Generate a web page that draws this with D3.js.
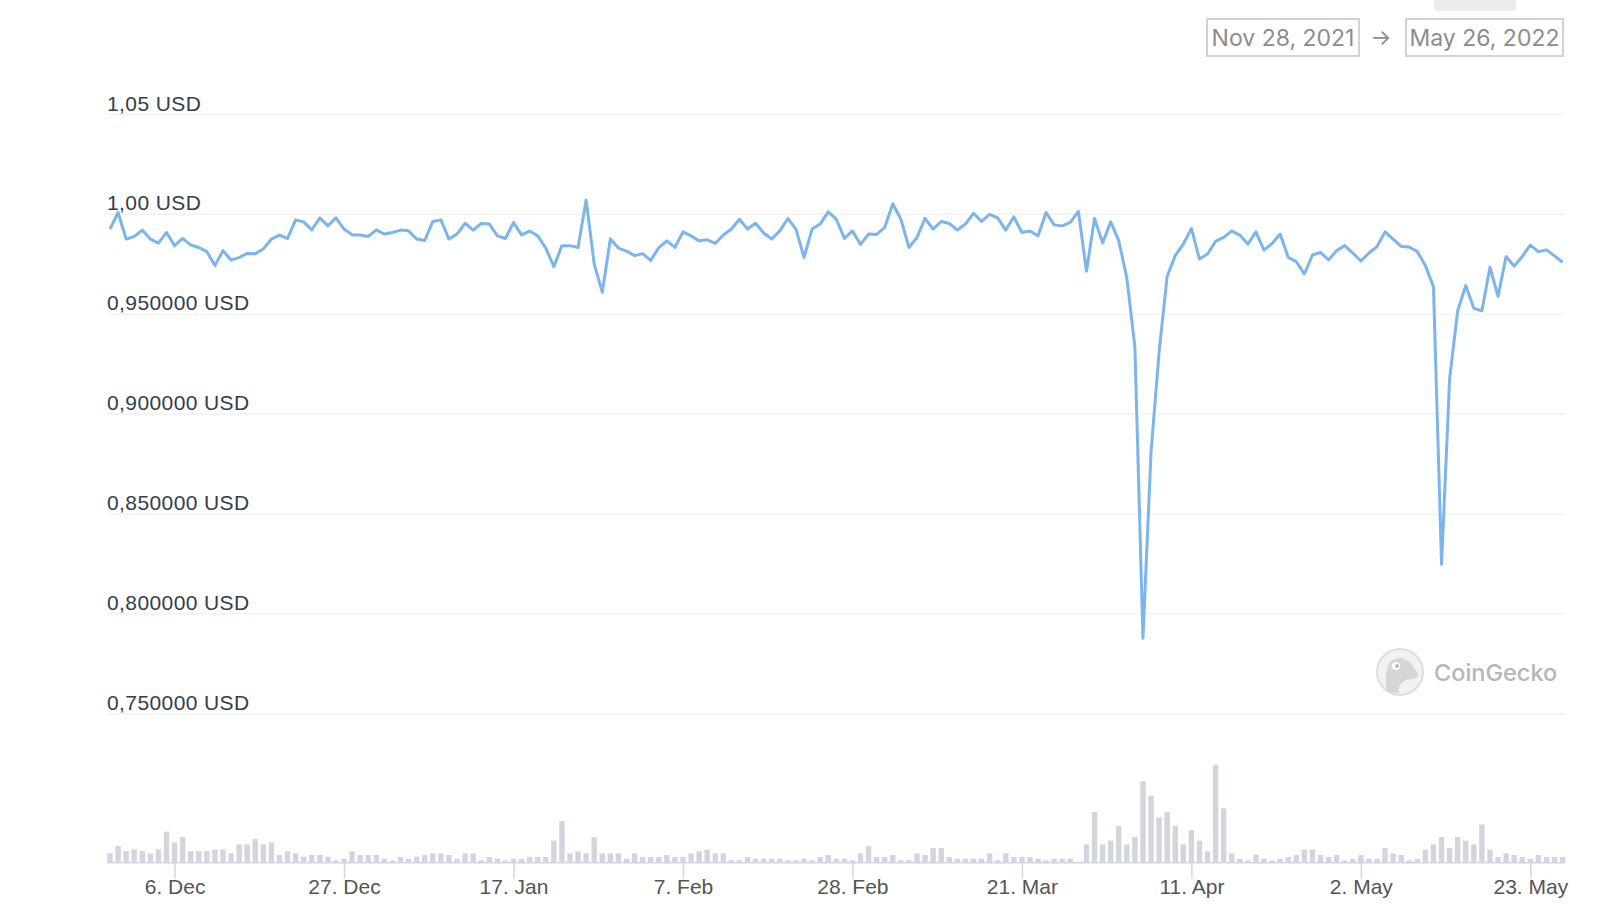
<!DOCTYPE html>
<html>
<head>
<meta charset="utf-8">
<script src="https://cdn.jsdelivr.net/npm/d3@7"></script>
<style>
  body { margin: 0; background: #fff; }
  svg { display: block; font-family: Inter, "Noto Sans", sans-serif; }
</style>
</head>
<body>
<svg width="1604" height="924"></svg>
<script>
// daily price (USD), Nov 28 2021 .. May 27 2022
var startDate = new Date(2021, 10, 28);
var prices = [
  0.9924, 1.0007, 0.9874, 0.9887, 0.9919, 0.9874, 0.9854, 0.9907, 0.9841, 0.9877,
  0.9844, 0.9832, 0.9811, 0.9741, 0.9816, 0.9769, 0.9781, 0.9802, 0.9801, 0.9824,
  0.9874, 0.9894, 0.9877, 0.9970, 0.9960, 0.9920, 0.9980, 0.9940, 0.9980, 0.9924,
  0.9895, 0.9894, 0.9887, 0.9920, 0.9899, 0.9907, 0.9919, 0.9915, 0.9874, 0.9867,
  0.9962, 0.9970, 0.9874, 0.9899, 0.9953, 0.9919, 0.9952, 0.9949, 0.9890, 0.9877,
  0.9957, 0.9895, 0.9914, 0.9890, 0.9829, 0.9736, 0.9841, 0.9841, 0.9832, 1.0070,
  0.9749,
  0.9608, 0.9874, 0.9829, 0.9814, 0.9791, 0.9801, 0.9767, 0.9831, 0.9865, 0.9832,
  0.9910, 0.9890, 0.9865, 0.9870, 0.9852, 0.9894, 0.9924, 0.9973, 0.9924, 0.9953,
  0.9904, 0.9874, 0.9915, 0.9977, 0.9924, 0.9782, 0.9924, 0.9949, 1.0010, 0.9973,
  0.9877, 0.9915, 0.9847, 0.9899, 0.9897, 0.9932, 1.0051, 0.9973, 0.9832, 0.9882,
  0.9978, 0.9924, 0.9962, 0.9952, 0.9919, 0.9949, 1.0003, 0.9962, 0.9998, 0.9980,
  0.9919, 0.9985, 0.9907, 0.9914, 0.9890, 1.0007, 0.9945, 0.9940, 0.9957, 1.0012,
  0.9713, 0.9977, 0.9854, 0.9960, 0.9865, 0.9680, 0.9334, 0.7876, 0.8806, 0.9309,
  0.9688, 0.9791, 0.9849, 0.9927, 0.9774, 0.9799, 0.9862, 0.9882, 0.9915, 0.9894,
  0.9849, 0.9910, 0.9819, 0.9852, 0.9899, 0.9782, 0.9761, 0.9699, 0.9794, 0.9807,
  0.9769, 0.9816, 0.9841, 0.9804, 0.9764, 0.9804, 0.9836, 0.9910, 0.9874, 0.9837,
  0.9834, 0.9811, 0.9741, 0.9635, 0.8245, 0.9175, 0.9515, 0.9641, 0.9527, 0.9515,
  0.9733, 0.9587, 0.9787, 0.9738, 0.9787, 0.9844, 0.9811, 0.9820, 0.9790, 0.9758
];

// daily volume, relative units
var volumes = [
  28, 50, 35, 40, 35, 28, 40, 93, 61, 77, 35, 35, 35, 40, 40, 28, 55, 55, 71, 55,
  61, 23, 34, 28, 18, 23, 23, 18, 7, 12, 34, 23, 23, 23, 12, 7, 17, 12, 18, 23,
  28, 28, 23, 12, 28, 28, 7, 17, 12, 7, 12, 12, 17, 17, 17, 66, 125, 28, 34, 28,
  76,
  28, 28, 28, 12, 28, 17, 17, 17, 23, 17, 17, 28, 34, 39, 28, 28, 7, 7, 17, 12,
  12, 12, 12, 7, 7, 12, 7, 17, 23, 12, 12, 7, 28, 50, 17, 17, 23, 7, 7, 28,
  23, 44, 44, 17, 12, 12, 12, 12, 28, 7, 28, 17, 17, 17, 12, 7, 12, 12, 12,
  3,
  55, 152, 55, 66, 110, 55, 77, 244, 201, 136, 152, 110, 55, 98, 66, 34, 293, 163, 28, 12,
  7, 23, 12, 7, 12, 17, 23, 39, 39, 23, 17, 23, 7, 12, 23, 12, 12, 44, 28, 23,
  7, 12, 39, 55, 77, 44, 77, 66, 55, 115, 39, 17, 28, 23, 17, 12, 23, 17, 17, 17
];

var yTicks = [0.75, 0.80, 0.85, 0.90, 0.95, 1.00, 1.05];
var yLabels = ["0,750000 USD", "0,800000 USD", "0,850000 USD", "0,900000 USD",
               "0,950000 USD", "1,00 USD", "1,05 USD"];
var xTicks = [new Date(2021, 11, 6), new Date(2021, 11, 27), new Date(2022, 0, 17),
              new Date(2022, 1, 7), new Date(2022, 1, 28), new Date(2022, 2, 21),
              new Date(2022, 3, 11), new Date(2022, 4, 2), new Date(2022, 4, 23)];
var rangeLabels = ["Nov 28, 2021", "May 26, 2022"];

var data = prices.map(function(p, i) {
    return { date: d3.timeDay.offset(startDate, i), price: p, volume: volumes[i] };
});

var svg = d3.select("svg");

var margin = { left: 107, right: 1565, top: 114, bottom: 713.3 };
var volBase = 862.7;

var xScale = d3.scaleTime()
    .domain([startDate, data[data.length - 1].date])
    .range([110, 1562.6]);

var yScale = d3.scaleLinear()
    .domain([0.75, 1.05])
    .range([margin.bottom, margin.top]);

var volScale = d3.scaleLinear()
    .domain([0, d3.max(volumes)])
    .range([volBase, volBase - 97.7]);

// grid + y labels
var yAxis = d3.axisLeft(yScale)
    .tickValues(yTicks)
    .tickSize(-(margin.right - margin.left))
    .tickFormat(function(d, i) { return yLabels[i]; });

var yGroup = svg.append("g")
    .attr("id", "y-axis")
    .attr("transform", "translate(" + margin.left + ",0)")
    .call(yAxis);
yGroup.select(".domain").remove();
yGroup.selectAll(".tick line")
    .attr("stroke", "#efefef")
    .attr("stroke-width", 1.2);
yGroup.selectAll(".tick text")
    .attr("x", 0)
    .attr("dy", -4)
    .attr("text-anchor", "start")
    .attr("fill", "#333d4b")
    .style("font-size", "21px")
    .style("letter-spacing", "0.4px");

// volume bars
svg.append("g").attr("id", "volume")
    .selectAll("rect")
    .data(data)
    .enter().append("rect")
    .attr("x", function(d) { return xScale(d.date) - 2.7; })
    .attr("width", 5.4)
    .attr("y", function(d) { return volScale(d.volume); })
    .attr("height", function(d) { return volBase - volScale(d.volume); })
    .attr("fill", "#d2d5dc");

// x axis
svg.append("line")
    .attr("x1", margin.left).attr("x2", margin.right)
    .attr("y1", volBase).attr("y2", volBase)
    .attr("stroke", "#ccd6eb").attr("stroke-width", 1.5);

var xAxis = d3.axisBottom(xScale)
    .tickValues(xTicks)
    .tickSize(16)
    .tickFormat(d3.timeFormat("%-d. %b"));

var xGroup = svg.append("g")
    .attr("id", "x-axis")
    .attr("transform", "translate(0," + volBase + ")")
    .call(xAxis);
xGroup.select(".domain").remove();
xGroup.selectAll(".tick line").attr("stroke", "#ccd6eb").attr("stroke-width", 1.5);
xGroup.selectAll(".tick text")
    .attr("y", 31)
    .attr("dy", 0)
    .attr("fill", "#555")
    .style("font-size", "21px");

// price line
var line = d3.line()
    .x(function(d) { return xScale(d.date); })
    .y(function(d) { return yScale(d.price); });

svg.append("path")
    .datum(data)
    .attr("fill", "none")
    .attr("stroke", "#7cb5ec")
    .attr("stroke-width", 3)
    .attr("stroke-linejoin", "round")
    .attr("d", line);

// watermark
var logo = svg.append("g").attr("transform", "translate(1400,672)");
logo.append("circle").attr("r", 23).attr("fill", "#f1f1f1").attr("stroke", "#dedede").attr("stroke-width", 2);
logo.append("path")
    .attr("d", "M-13,20 C-15,8 -15,-4 -9,-11 C-2,-16 8,-14 13,-6 C15,-2 19,0 18,4 C16,8 9,6 4,9 C0,12 -2,16 -1,21 Z")
    .attr("fill", "#d6d6d6");
logo.append("circle").attr("cx", -4).attr("cy", -6).attr("r", 4).attr("fill", "#fff");
logo.append("circle").attr("cx", -3).attr("cy", -6).attr("r", 2).attr("fill", "#bbb");
svg.append("text")
    .attr("x", 1434).attr("y", 681)
    .attr("fill", "#b6b6b6")
    .style("font-size", "23.5px")
    .style("font-weight", 500)
    .text("CoinGecko");

// date range boxes
svg.append("rect")
    .attr("x", 1434).attr("y", -6).attr("width", 82).attr("height", 17).attr("rx", 4)
    .attr("fill", "#ebebeb");

var boxes = [{ x: 1207, w: 152 }, { x: 1406, w: 157 }];
boxes.forEach(function(b, i) {
    svg.append("rect")
        .attr("x", b.x).attr("y", 19).attr("width", b.w).attr("height", 37)
        .attr("fill", "#fff").attr("stroke", "#d2d2d2").attr("stroke-width", 2);
    svg.append("text")
        .attr("x", b.x + b.w / 2).attr("y", 46)
        .attr("text-anchor", "middle")
        .attr("fill", "#8c8c8c")
        .style("font-size", "23px")
        .text(rangeLabels[i]);
});
svg.append("text")
    .attr("x", 1381).attr("y", 45)
    .attr("text-anchor", "middle")
    .attr("fill", "#8c8c8c")
    .style("font-size", "22px")
    .text("→");
</script>
</body>
</html>
